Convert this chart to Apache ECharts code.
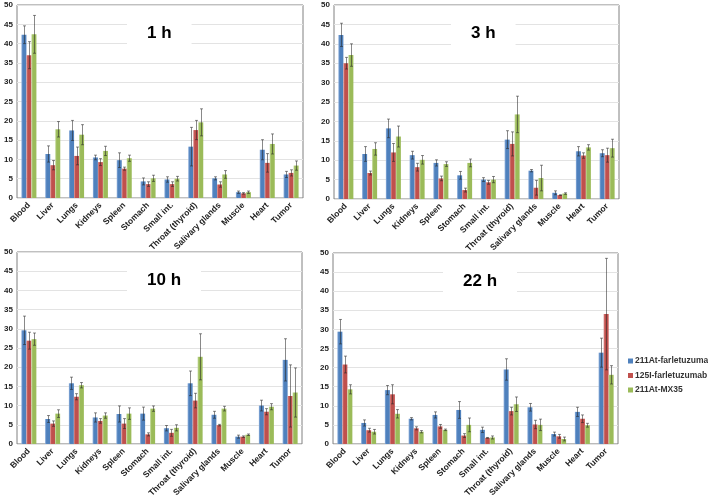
<!DOCTYPE html>
<html><head><meta charset="utf-8">
<script src="https://cdn.jsdelivr.net/npm/echarts@6/dist/echarts.min.js"></script>
<style>html,body{margin:0;padding:0;background:#fff}#c{width:708px;height:500px}</style>
</head><body><div id="c"></div>
<script>
const categories = ['Blood','Liver','Lungs','Kidneys','Spleen','Stomach','Small int.','Throat (thyroid)','Salivary glands','Muscle','Heart','Tumor'];
const seriesNames = ['211At-farletuzumab','125I-farletuzumab','211At-MX35'];
const panelTitles = ['1 h','3 h','10 h','22 h'];
const yTicks = [0,5,10,15,20,25,30,35,40,45,50];

const atFar_1h = [42.3, 11.4, 17.5, 10.5, 9.8, 4.3, 4.8, 13.3, 5.1, 1.5, 12.5, 6.1];
const atFar_1h_err = [2.3, 2.1, 2.6, 0.6, 1.9, 0.9, 0.7, 5.0, 0.4, 0.3, 2.6, 0.8];
const iFar_1h = [37.0, 8.5, 10.9, 9.3, 7.6, 3.6, 3.6, 17.6, 3.5, 1.2, 9.1, 6.5];
const iFar_1h_err = [3.5, 1.2, 2.3, 0.9, 0.4, 0.6, 0.6, 2.5, 0.7, 0.2, 2.4, 0.8];
const mx_1h = [42.4, 17.8, 16.4, 12.2, 10.3, 5.1, 5.0, 19.6, 6.1, 1.5, 14.0, 8.4];
const mx_1h_err = [4.9, 2.0, 2.6, 1.2, 0.8, 0.8, 0.6, 3.5, 1.0, 0.3, 2.6, 1.2];

const atFar_3h = [42.3, 11.6, 18.2, 11.3, 9.3, 6.1, 5.0, 15.3, 7.3, 1.6, 12.3, 11.8];
const atFar_3h_err = [3.0, 1.9, 2.4, 1.0, 0.8, 1.0, 0.5, 2.3, 0.3, 0.5, 1.2, 0.9];
const iFar_3h = [35.0, 6.7, 12.0, 8.2, 5.3, 2.3, 4.3, 14.2, 2.9, 1.0, 11.2, 11.3];
const iFar_3h_err = [1.5, 0.5, 2.3, 1.0, 0.6, 0.5, 0.5, 3.1, 1.9, 0.1, 0.7, 1.8];
const mx_3h = [37.1, 12.9, 16.1, 10.1, 9.0, 9.3, 5.0, 21.8, 5.4, 1.4, 13.3, 13.1];
const mx_3h_err = [2.9, 1.6, 2.7, 1.1, 0.6, 1.0, 0.8, 4.7, 3.3, 0.2, 0.7, 2.3];

const atFar_10h = [29.6, 6.5, 15.8, 6.9, 7.8, 7.9, 4.1, 15.8, 7.6, 1.9, 10.0, 21.9];
const atFar_10h_err = [3.7, 0.9, 1.6, 1.2, 2.1, 1.7, 0.7, 3.2, 0.9, 0.4, 1.4, 5.5];
const iFar_10h = [26.9, 5.3, 12.3, 6.0, 5.3, 2.5, 2.9, 11.3, 4.9, 1.9, 8.4, 12.5];
const iFar_10h_err = [2.2, 0.7, 0.8, 0.6, 1.3, 0.4, 0.9, 1.9, 0.2, 0.2, 0.8, 8.1];
const mx_10h = [27.3, 7.9, 15.3, 7.4, 7.9, 9.2, 4.2, 22.7, 9.2, 2.4, 9.7, 13.4];
const mx_10h_err = [1.6, 1.0, 0.7, 0.7, 1.5, 0.7, 0.8, 6.0, 0.6, 0.2, 0.8, 6.4];

const atFar_22h = [29.4, 5.5, 14.1, 6.6, 7.6, 8.9, 3.7, 19.5, 9.6, 2.6, 8.4, 23.9];
const atFar_22h_err = [3.2, 0.8, 1.2, 0.3, 0.8, 2.2, 0.7, 2.8, 1.0, 0.5, 1.2, 3.8];
const iFar_22h = [20.8, 3.6, 13.0, 4.1, 4.6, 2.2, 1.6, 8.6, 5.1, 2.0, 6.6, 34.0];
const iFar_22h_err = [2.2, 0.5, 2.5, 0.4, 0.5, 0.5, 0.1, 1.0, 1.1, 0.5, 1.0, 14.6];
const mx_22h = [14.3, 3.2, 7.9, 3.2, 3.7, 5.0, 1.7, 10.4, 5.0, 1.3, 4.9, 18.1];
const mx_22h_err = [1.2, 0.6, 1.1, 0.3, 0.2, 1.8, 0.4, 1.9, 1.5, 0.5, 0.5, 2.4];

const panels = [
  {vals:[atFar_1h,iFar_1h,mx_1h], errs:[atFar_1h_err,iFar_1h_err,mx_1h_err]},
  {vals:[atFar_3h,iFar_3h,mx_3h], errs:[atFar_3h_err,iFar_3h_err,mx_3h_err]},
  {vals:[atFar_10h,iFar_10h,mx_10h], errs:[atFar_10h_err,iFar_10h_err,mx_10h_err]},
  {vals:[atFar_22h,iFar_22h,mx_22h], errs:[atFar_22h_err,iFar_22h_err,mx_22h_err]}
];

const grids = [
  {left:17, top:5, width:286, height:193},
  {left:334, top:5, width:285, height:194},
  {left:17, top:252, width:285, height:196},
  {left:333, top:253, width:285, height:196}
];
const titlePos = [
  {left:127, top:19},
  {left:451, top:19},
  {left:127, top:266},
  {left:443, top:267}
];
const baseColors = ['#4F81BD','#C0504D','#9BBB59'];
const lightColors = ['#8DAEDB','#DB8E8C','#C3D99A'];
const BW = 5;

function grad(i){
  return {type:'linear',x:0,y:0,x2:1,y2:0,colorStops:[
    {offset:0,color:lightColors[i]},{offset:0.3,color:baseColors[i]},{offset:1,color:baseColors[i]}]};
}

const xAxes=[], yAxes=[], series=[], titles=[];
panels.forEach((p,pi)=>{
  xAxes.push({type:'category',gridIndex:pi,data:categories,
    axisLine:{show:false},axisTick:{show:false},
    axisLabel:{interval:0,rotate:45,fontSize:8.5,fontWeight:'bold',color:'#222',fontFamily:'Arial, Liberation Sans',margin:6}});
  yAxes.push({type:'value',gridIndex:pi,min:0,max:50,interval:5,
    axisLine:{show:false},axisTick:{show:false},
    splitLine:{lineStyle:{color:'#e3e3e3',width:1}},
    axisLabel:{fontSize:8,fontWeight:'bold',color:'#222',fontFamily:'Arial, Liberation Sans',margin:4}});
  titles.push({text:panelTitles[pi],left:titlePos[pi].left,top:titlePos[pi].top,
    backgroundColor:'#fff',padding:[6,20],itemGap:0,
    textStyle:{fontSize:17,fontWeight:'bold',color:'#000',fontFamily:'Arial, Liberation Sans'}});
  for(let k=0;k<3;k++){
    series.push({type:'bar',name:seriesNames[k],xAxisIndex:pi,yAxisIndex:pi,
      data:p.vals[k],barWidth:BW,barGap:'0%',
      itemStyle:{color:grad(k)},z:2});
  }
  for(let k=0;k<3;k++){
    const dx=(k-1)*BW;
    series.push({type:'custom',xAxisIndex:pi,yAxisIndex:pi,z:5,
      data:p.vals[k].map((v,i)=>[i,v,p.errs[k][i]]),
      encode:{x:0,y:1},
      renderItem:function(params,api){
        const c=api.value(0), v=api.value(1), e=api.value(2);
        const top=api.coord([c,v+e]); const bot=api.coord([c,Math.max(0,v-e)]);
        const x=Math.round(top[0]+dx)+0.5;
        const st={stroke:'rgba(40,40,40,0.55)',lineWidth:1};
        return {type:'group',children:[
          {type:'line',shape:{x1:x,y1:top[1],x2:x,y2:bot[1]},style:st},
          {type:'line',shape:{x1:x-1.5,y1:top[1],x2:x+1.5,y2:top[1]},style:st},
          {type:'line',shape:{x1:x-1.5,y1:bot[1],x2:x+1.5,y2:bot[1]},style:st}
        ]};
      }});
  }
});

const chart = echarts.init(document.getElementById('c'),null,{renderer:'canvas'});
chart.setOption({
  animation:false,
  backgroundColor:'#fff',
  title:titles,
  grid:grids.map(g=>Object.assign({show:true,borderColor:'#808080',borderWidth:1,backgroundColor:'transparent'},g)),
  xAxis:xAxes,
  yAxis:yAxes,
  legend:{data:seriesNames.map((n,i)=>({name:n,itemStyle:{color:baseColors[i]}})),orient:'vertical',left:628,top:356,padding:0,
    itemWidth:5,itemHeight:5,itemGap:4.5,icon:'rect',
    textStyle:{fontSize:8.5,fontWeight:'bold',color:'#333',lineHeight:10,padding:[0,0,0,-3],fontFamily:'Arial, Liberation Sans'}},
  series:series
});
</script></body></html>
